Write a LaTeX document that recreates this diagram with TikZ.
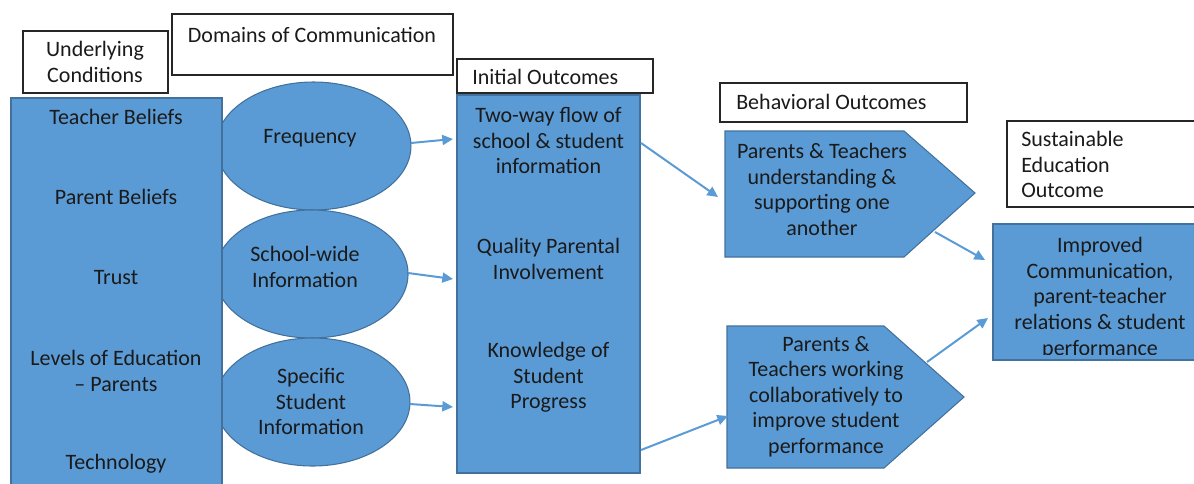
\documentclass[tikz,border=0pt]{standalone}
\usepackage{fontspec}
\setmainfont{Carlito}
\usetikzlibrary{arrows.meta}
\definecolor{fillblue}{HTML}{5B9BD5}
\definecolor{edgeblue}{HTML}{41719C}
\definecolor{inktext}{HTML}{1A1A1A}
\begin{document}
\begin{tikzpicture}[x=0.75pt,y=-0.75pt,
  every node/.style={font=\fontsize{16.5}{19.2}\selectfont, inner sep=0pt, text=inktext},
  labelbox/.style={draw=black!85, line width=0.8pt, fill=white},
  blueshape/.style={fill=fillblue, draw=edgeblue, line width=0.8pt},
  link/.style={draw=fillblue, line width=1.5pt, -{Triangle[length=8pt,width=7.5pt]}},
  txt/.style={align=center}]
\useasboundingbox (0,0) rectangle (1194,483);
\clip (0,0) rectangle (1194,483);

% column headings
\path[labelbox] (23,31) rectangle (168,93);
\node[txt] (hcond) at (95,62) {Underlying\\Conditions};
\path[labelbox] (172,14) rectangle (453,75);
\node (hdom) at (312,35) {Domains of Communication};
\path[labelbox] (457,59) rectangle (653,93);
\node[anchor=west] (hinit) at (472,77) {Initial Outcomes};
\path[labelbox] (720,83) rectangle (967,122);
\node[anchor=west] (hbeh) at (736,102) {Behavioral Outcomes};
\path[labelbox] (1007,121) rectangle (1210,207);
\node[anchor=west, align=left] (hsus) at (1021,164.5) {Sustainable\\Education\\Outcome};

% domains of communication
\path[blueshape] (313.5,146) ellipse [x radius=73.1pt, y radius=48pt];
\path[blueshape] (311.5,274) ellipse [x radius=72.4pt, y radius=48pt];
\path[blueshape] (312.5,402) ellipse [x radius=73.1pt, y radius=48pt];
\node (freq) at (310,138) {Frequency};
\node[txt] (wide) at (305,267) {School-wide\\Information};
\node[txt] (spec) at (311,401.5) {Specific\\Student\\Information};

% underlying conditions
\path[blueshape] (11,98) rectangle (222,495);
\node (tb) at (116,117) {Teacher Beliefs};
\node (pb) at (116,197) {Parent Beliefs};
\node (tr) at (116,278) {Trust};
\node[txt] (le) at (116,371) {Levels of Education\\– Parents};
\node (te) at (116,464) {Technology};

% initial outcomes
\path[blueshape] (457,95) rectangle (640,473);
\node[txt] (flow) at (548.5,140.5) {Two-way flow of\\school \& student\\information};
\node[txt] (qual) at (548.5,259) {Quality Parental\\Involvement};
\node[txt] (know) at (548.5,377.5) {Knowledge of\\Student\\Progress};

% behavioral outcomes
\path[blueshape] (725,131) -- (904,131) -- (975,193) -- (904,257) -- (725,257) -- cycle;
\node[txt] (und) at (822,189.5) {Parents \& Teachers\\understanding \&\\supporting one\\another};
\path[blueshape] (727,326) -- (884,326) -- (964,397) -- (884,468) -- (727,468) -- cycle;
\node[txt] (col) at (826,396.5) {Parents \&\\Teachers working\\collaboratively to\\improve student\\performance};

% sustainable outcome: the last line runs past the box and is cut off
\path[blueshape] (993,224) rectangle (1210,360);
\begin{scope}
  \clip (993,224) rectangle (1210,354);
  \node[txt] (impr) at (1100,298) {Improved\\Communication,\\parent-teacher\\relations \& student\\performance};
\end{scope}

% connector end points
\coordinate (f1) at (411,143);  \coordinate (f2) at (453,139);
\coordinate (w1) at (408,273);  \coordinate (w2) at (453,279);
\coordinate (s1) at (410,404);  \coordinate (s2) at (453,407);
\coordinate (i1) at (641,143);  \coordinate (b1) at (718,197);
\coordinate (i2) at (641,450);  \coordinate (b2) at (728,416);
\coordinate (u1) at (935,232);  \coordinate (m1) at (985,260);
\coordinate (c1) at (927,362);  \coordinate (m2) at (988,318);

\draw[link] (f1) -- (f2);
\draw[link] (w1) -- (w2);
\draw[link] (s1) -- (s2);
\draw[link] (i1) -- (b1);
\draw[link] (i2) -- (b2);
\draw[link] (u1) -- (m1);
\draw[link] (c1) -- (m2);
\end{tikzpicture}
\end{document}
